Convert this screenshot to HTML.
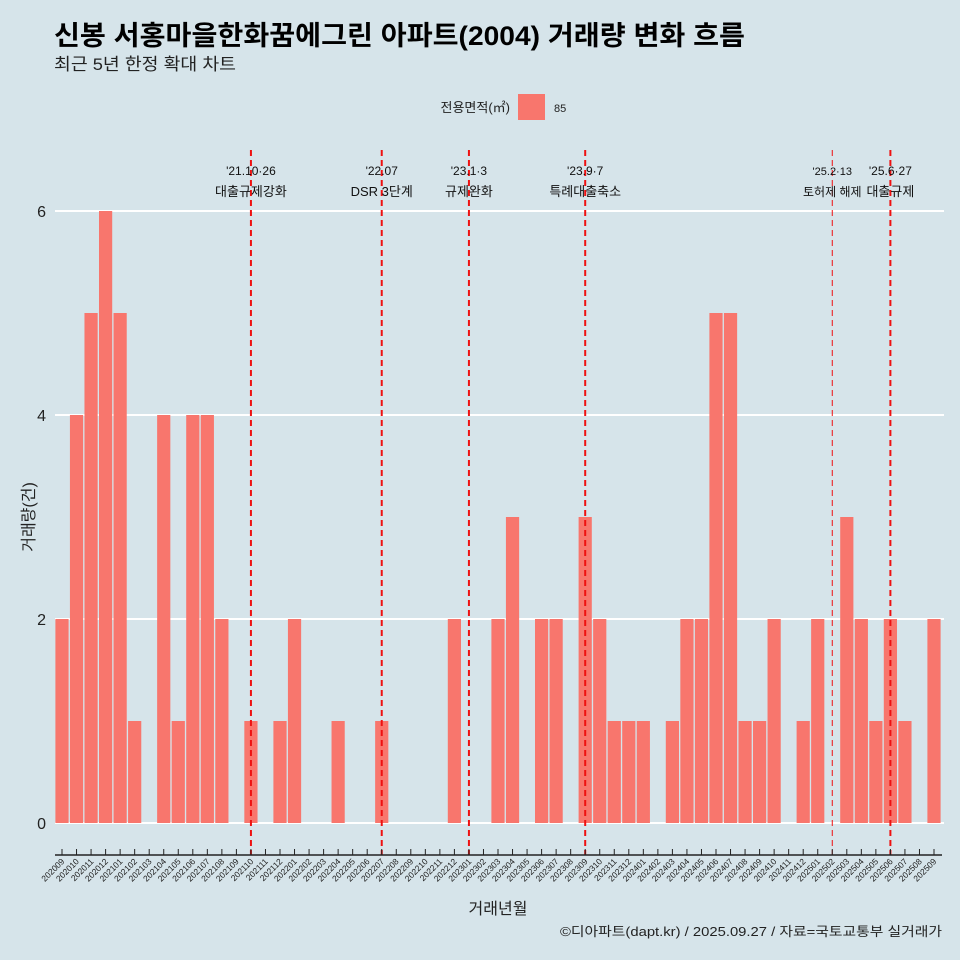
<!DOCTYPE html>
<html><head><meta charset="utf-8">
<style>
body{margin:0;background:#d6e4ea;}
svg{display:block;font-family:"Liberation Sans","Noto Sans CJK KR",sans-serif;}
</style></head>
<body>
<svg id="chart" width="960" height="960" viewBox="0 0 960 960">
<rect width="960" height="960" fill="#d6e4ea"/>
<text x="54" y="45" font-size="27" font-weight="bold" fill="#000" textLength="691" lengthAdjust="spacingAndGlyphs">신봉 서홍마을한화꿈에그린 아파트(2004) 거래량 변화 흐름</text>
<text x="54" y="70" font-size="17" fill="#222" textLength="182" lengthAdjust="spacingAndGlyphs">최근 5년 한정 확대 차트</text>
<g>
<text x="510" y="112" font-size="13" text-anchor="end" fill="#222">전용면적(㎡)</text>
<rect x="518" y="94" width="27" height="26" fill="#f8766d"/>
<text x="554" y="112" font-size="11" fill="#222">85</text>
</g>
<g id="grid"></g><g id="bars"></g><g id="events"></g><g id="xaxis"></g>
<text x="34" y="517" font-size="16" fill="#222" text-anchor="middle" transform="rotate(-90 34 517)">거래량(건)</text>
<text x="498" y="914" font-size="16" fill="#222" text-anchor="middle">거래년월</text>
<text x="560" y="936" font-size="13" fill="#222" textLength="382" lengthAdjust="spacingAndGlyphs">©디아파트(dapt.kr) / 2025.09.27 / 자료=국토교통부 실거래가</text>
</svg>
<script>
const months=["202009","202010","202011","202012","202101","202102","202103","202104","202105","202106","202107","202108","202109","202110","202111","202112","202201","202202","202203","202204","202205","202206","202207","202208","202209","202210","202211","202212","202301","202302","202303","202304","202305","202306","202307","202308","202309","202310","202311","202312","202401","202402","202403","202404","202405","202406","202407","202408","202409","202410","202411","202412","202501","202502","202503","202504","202505","202506","202507","202508","202509"];
const counts=[2,4,5,6,5,1,0,4,1,4,4,2,0,1,0,1,2,0,0,1,0,0,1,0,0,0,0,2,0,0,2,3,0,2,2,0,3,2,1,1,1,0,1,2,2,5,5,1,1,2,0,1,2,0,3,2,1,2,1,0,2];
const yTicks=[0,2,4,6];
const eventMonths=["202110","202207","202301","202309","202502","202506"];
const eventDates=["'21.10·26","'22.07","'23.1·3","'23.9·7","'25.2·13","'25.6·27"];
const eventLabels=["대출규제강화","DSR 3단계","규제완화","특례대출축소","토허제 해제","대출규제"];
const ns="http://www.w3.org/2000/svg";
function X(i){return 62+i*(934-62)/(months.length-1);}
function Y(v){return 823-v*102;}
function mk(tag,attrs,parent){const e=document.createElementNS(ns,tag);for(const k in attrs)e.setAttribute(k,attrs[k]);document.getElementById(parent).appendChild(e);return e;}
yTicks.forEach(t=>{
 const l=mk("line",{x1:55,x2:944,y1:Y(t),y2:Y(t),stroke:"#fff","stroke-width":2},"grid");
 
 
 const tx=mk("text",{x:46,y:Y(t)+6,"font-size":16,"text-anchor":"end",fill:"#222"},"grid");
 tx.textContent=t;
 
 
});
counts.forEach((c,i)=>{
 if(c<=0)return;
 const r=mk("rect",{x:X(i)-6.6,y:Y(c),width:13.2,height:Y(0)-Y(c),fill:"#f8766d"},"bars");
 
 
});
eventMonths.forEach((m,j)=>{
 const i=months.indexOf(m);const x=X(i);const thin=(m==="202502");
 const l=mk("line",{x1:x,x2:x,y1:150,y2:855,stroke:"#ee1111","stroke-width":thin?1:2,"stroke-dasharray":"6,4"},"events");
 
 
 const fs=thin?11:12;
 const t1=mk("text",{x:x,y:175,"font-size":fs,"text-anchor":"middle",fill:"#111"},"events");
 t1.textContent=eventDates[j];
 
 
 const t2=mk("text",{x:x,y:196,"font-size":fs+1,"text-anchor":"middle",fill:"#111"},"events");
 t2.textContent=eventLabels[j];
 
 
});
const ax=mk("line",{x1:55,x2:942,y1:855,y2:855,stroke:"#222","stroke-width":1.5},"xaxis");


months.forEach((m,i)=>{
 const x=X(i);
 const t=mk("line",{x1:x,x2:x,y1:849,y2:855,stroke:"#222","stroke-width":1},"xaxis");
 
 
 const tx=mk("text",{x:x+3,y:862,"font-size":8.5,"text-anchor":"end",fill:"#222",transform:`rotate(-45 ${x+3} 862)`},"xaxis");
 tx.textContent=m;
 
 
});
</script>
</body></html>
